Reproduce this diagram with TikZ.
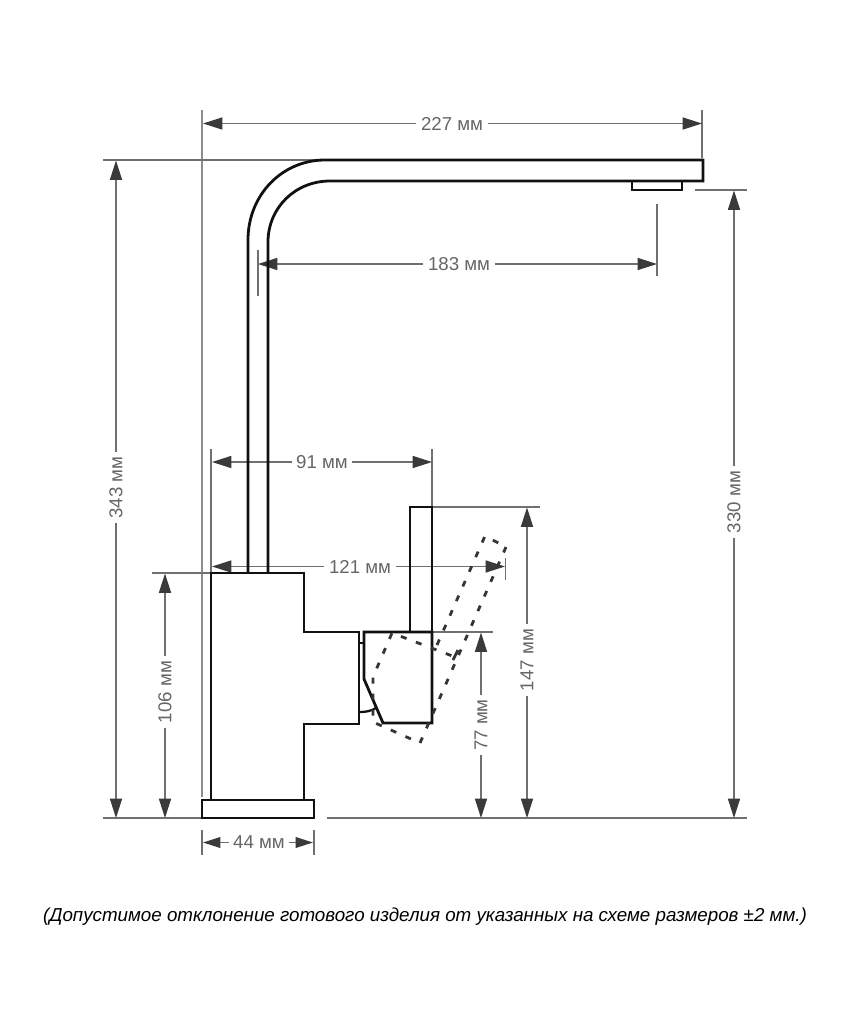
\documentclass[tikz,border=0pt]{standalone}
\usepackage{fontspec}
\setmainfont{Liberation Sans}
\usetikzlibrary{arrows.meta}
\definecolor{dimline}{HTML}{707070}
\definecolor{dimtip}{HTML}{3A3A3A}
\definecolor{dimtext}{HTML}{666666}
\definecolor{ink}{HTML}{111111}
\tikzset{
  x=0.75pt,y=-0.75pt,
  extline/.style={draw=dimline!80,line width=1.5pt},
  extthin/.style={draw=dimline,line width=0.95pt},
  dimto/.style={draw=dimline,line width=1.05pt,-{Triangle[length=14.5pt,width=9pt,fill=dimtip,color=dimtip]}},
  dimshort/.style={draw=dimline,line width=1.05pt,-{Triangle[length=13pt,width=8pt,fill=dimtip,color=dimtip]}},
  lbl/.style={text=dimtext,font=\fontsize{14pt}{16pt}\selectfont,inner sep=3.5pt,outer sep=0pt},
  bodyline/.style={draw=ink,line width=2.1pt,fill=none,line join=miter},
  thinbody/.style={draw=ink,line width=1.7pt},
  dashline/.style={draw=ink!85,line width=2.1pt,dash pattern=on 4.5pt off 7.5pt},
}
\begin{document}
\begin{tikzpicture}
\useasboundingbox[fill=white] (0,0) rectangle (850,1036);
% anchors
\coordinate (L1t) at (202,110); \coordinate (L1b) at (202,797);
\coordinate (R1t) at (702,110); \coordinate (R1b) at (702,158);
\coordinate (H1l) at (103,160); \coordinate (H1r) at (322,160);
\coordinate (B1l) at (103,818); \coordinate (B1r) at (202,818);
\coordinate (B2l) at (327,818); \coordinate (B2r) at (747,818);
\coordinate (H2l) at (695,190); \coordinate (H2r) at (747,190);
\coordinate (E3a) at (258,250); \coordinate (E3b) at (258,296);
\coordinate (E4a) at (657,204); \coordinate (E4b) at (657,276);
\coordinate (E5a) at (211,449); \coordinate (E5b) at (211,573);
\coordinate (E6a) at (432,449); \coordinate (E6b) at (432,507);
\coordinate (E7a) at (505.5,558); \coordinate (E7b) at (505.5,580);
\coordinate (H3l) at (152,573); \coordinate (H3r) at (211,573);
\coordinate (H4l) at (432,632); \coordinate (H4r) at (493,632);
\coordinate (H5l) at (432,507); \coordinate (H5r) at (540,507);
\coordinate (E8a) at (202,830); \coordinate (E8b) at (202,855);
\coordinate (E9a) at (314,830); \coordinate (E9b) at (314,855);
\draw[extline] (L1t) -- (L1b);
\draw[extthin] (R1t) -- (R1b) (H1l) -- (H1r) (B1l) -- (B1r) (B2l) -- (B2r) (H2l) -- (H2r)
  (E3a) -- (E3b) (E4a) -- (E4b) (E5a) -- (E5b) (E6a) -- (E6b) (E7a) -- (E7b)
  (H3l) -- (H3r) (H4l) -- (H4r) (H5l) -- (H5r) (E8a) -- (E8b) (E9a) -- (E9b);
% labels
\node[lbl] (d227) at (452,123.5) {227 мм};
\node[lbl] (d183) at (459,264) {183 мм};
\node[lbl] (d91) at (322,462) {91 мм};
\node[lbl] (d121) at (360,566.5) {121 мм};
\node[lbl] (d44) at (259,842.5) {44 мм};
\node[lbl,rotate=90] (d343) at (116,487.5) {343 мм};
\node[lbl,rotate=90] (d330) at (734,502) {330 мм};
\node[lbl,rotate=90] (d106) at (165,692) {106 мм};
\node[lbl,rotate=90] (d77) at (481,725) {77 мм};
\node[lbl,rotate=90] (d147) at (527,660) {147 мм};
% dimension arrows
\coordinate (a227l) at (203,123.5); \coordinate (a227r) at (702,123.5);
\coordinate (a183l) at (258,264); \coordinate (a183r) at (657,264);
\coordinate (a91l) at (212,462); \coordinate (a91r) at (432,462);
\coordinate (a121l) at (212,566.5); \coordinate (a121r) at (505,566.5);
\coordinate (a44l) at (203,842.5); \coordinate (a44r) at (313,842.5);
\coordinate (a343t) at (116,160.5); \coordinate (a343b) at (116,818);
\coordinate (a330t) at (734,190.5); \coordinate (a330b) at (734,818);
\coordinate (a106t) at (165,573.5); \coordinate (a106b) at (165,818);
\coordinate (a77t) at (481,632.5); \coordinate (a77b) at (481,818);
\coordinate (a147t) at (527,507.5); \coordinate (a147b) at (527,818);
\foreach \n in {227,183,91,121}{
  \draw[dimto] (d\n.west) -- (a\n l);
  \draw[dimto] (d\n.east) -- (a\n r);
}
\draw[dimshort] (d44.west) -- (a44l);
\draw[dimshort] (d44.east) -- (a44r);
\foreach \n in {343,330,106,77,147}{
  \draw[dimto] (d\n.east) -- (a\n t);
  \draw[dimto] (d\n.west) -- (a\n b);
}
% faucet
\draw[bodyline] (248,573) -- (248,240) .. controls (248,195) and (282,160) .. (325,160) -- (703,160) -- (703,181) -- (330,181) .. controls (295,181) and (268,208) .. (268,242) -- (268,573);
\draw[bodyline] (632,181) rectangle (682,190);
\draw[bodyline] (211,800) -- (211,573) -- (304,573) -- (304,632) -- (359,632) -- (359,724) -- (304,724) -- (304,800);
\draw[bodyline] (202,800) rectangle (314,818);
\draw[bodyline] (364,679) -- (364,632) -- (432,632) -- (432,723) -- (383,723) -- cycle;
\draw[bodyline] (410,632) -- (410,507) -- (432,507) -- (432,632);
\draw[thinbody] (359,643) -- (364,643);
\draw[thinbody] (360,712) .. controls (366,712) and (371,711) .. (376,708);
% handle, dashed position
\draw[dashline] (506,547) -- (420,743) -- (373,722) -- (373,677) -- (392,633) -- (455,657);
\draw[dashline] (437,645) -- (485,536) -- (506,547);
\draw[dashline,dash pattern=on 12pt off 1pt] (458,650) -- (453,660);
% note
\node[text=black,inner sep=0pt,font=\itshape\fontsize{14.07pt}{16pt}\selectfont] (note) at (425,917) {(Допустимое отклонение готового изделия от указанных на схеме размеров ±2 мм.)};
\end{tikzpicture}
\end{document}
